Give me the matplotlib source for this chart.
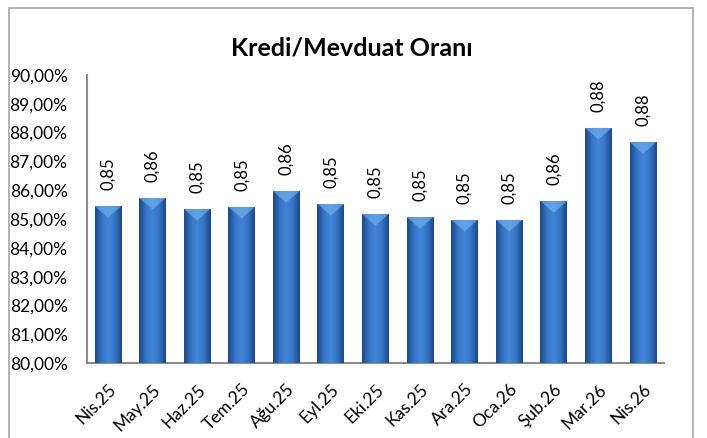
import numpy as np
import matplotlib.pyplot as plt
from matplotlib.patches import Rectangle
from matplotlib.colors import LinearSegmentedColormap

plt.rcParams['font.family'] = ['Lato', 'DejaVu Sans']

# Kredi/Mevduat orani (%)
months = ["Nis.25", "May.25", "Haz.25", "Tem.25", "Ağu.25", "Eyl.25", "Eki.25",
          "Kas.25", "Ara.25", "Oca.26", "Şub.26", "Mar.26", "Nis.26"]
ratios = [85.45, 85.73, 85.35, 85.42, 85.97, 85.52, 85.17,
          85.07, 84.97, 84.97, 85.62, 88.16, 87.67]
value_labels = ["0,85", "0,86", "0,85", "0,85", "0,86", "0,85", "0,85",
                "0,85", "0,85", "0,85", "0,86", "0,88", "0,88"]
yticks = [80, 81, 82, 83, 84, 85, 86, 87, 88, 89, 90]

fig = plt.figure(figsize=(7.07, 4.38), dpi=100)
ax = fig.add_axes([0.123, 0.171, 0.816, 0.658])

# outer chart frame
fig.patches.append(Rectangle((0.013, -0.05), 0.967, 1.032, transform=fig.transFigure,
                             fill=False, edgecolor='#a6a6a6', linewidth=1.2))

x = np.arange(len(months))
width = 0.6
bars = ax.bar(x, ratios, width, bottom=0, color='#3a78c8', edgecolor='none', zorder=2)

# horizontal shading gradient across each bar, dark edges and lighter middle
cmap = LinearSegmentedColormap.from_list('bar', ['#1c4886', '#3574c4', '#4386d8', '#3574c4', '#1c4886'])
grad = np.linspace(0, 1, 64).reshape(1, -1)
for b in bars:
    im = ax.imshow(grad, cmap=cmap, aspect='auto', zorder=3,
                   extent=[b.get_x(), b.get_x() + b.get_width(), 80, b.get_height()])
    im.set_clip_path(b)
    # lighter bevel on top
    h = b.get_height()
    ax.fill([b.get_x(), b.get_x() + b.get_width(), b.get_x() + b.get_width() / 2],
            [h, h, h - 0.4], color='#7ab4f2', alpha=0.6, zorder=4, linewidth=0)

for xi, v, lab in zip(x, ratios, value_labels):
    ax.text(xi, v + 0.55, lab, rotation=90, ha='center', va='bottom', fontsize=12)

ax.set_xlim(-0.47, len(months) - 0.53)
ax.set_ylim(80, 90)
ax.set_yticks(yticks)
ax.set_yticklabels([f"{t},00%" for t in yticks], fontsize=12.5)
ax.set_xticks(x)
ax.set_xticklabels(months, rotation=45, ha='right', rotation_mode='anchor', fontsize=12.5)
ax.tick_params(axis='y', length=0, pad=14)
ax.tick_params(axis='x', length=0, pad=13)

for s in ['top', 'right']:
    ax.spines[s].set_visible(False)
for s in ['left', 'bottom']:
    ax.spines[s].set_color('#8c8c8c')
    ax.spines[s].set_linewidth(1.5)

fig.text(0.497, 0.89, "Kredi/Mevduat Oranı", ha='center', va='center',
         fontsize=18, fontweight='bold')

fig.savefig("out.png", dpi=100)
